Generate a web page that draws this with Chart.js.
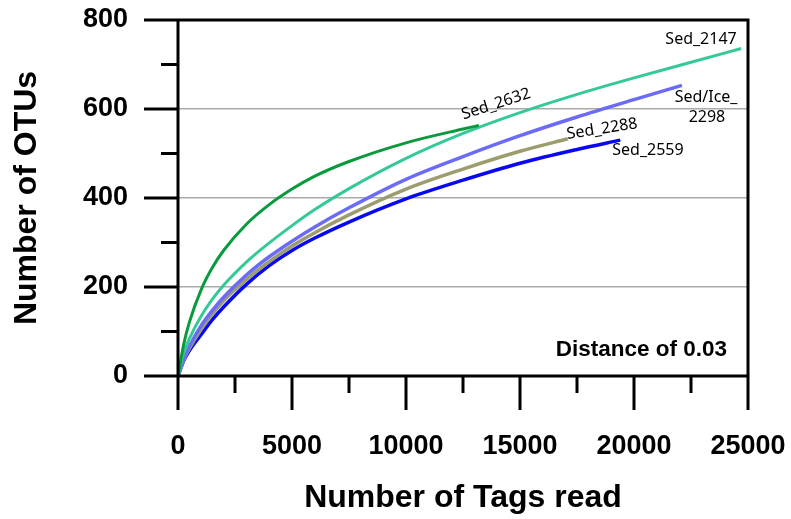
<!DOCTYPE html>
<html>
<head>
<meta charset="utf-8">
<script src="https://cdn.jsdelivr.net/npm/chart.js@4.4.1/dist/chart.umd.min.js"></script>
<style>
  html, body { margin: 0; padding: 0; background: #fff; }
  #wrap { width: 791px; height: 519px; }
</style>
</head>
<body>
<div id="wrap"><canvas id="otuChart" width="791" height="519"></canvas></div>
<script>
// rarefaction curves, values (tags read -> OTUs)
const sed2632X = [0, 250, 500, 1000, 1500, 2000, 3000, 4000, 5000, 6000, 7500, 10000, 12500, 13200];
const sed2632Y = [0, 71, 121, 192, 243, 282, 341, 385, 420, 449, 482, 524, 555, 563];

const sed2147X = [0, 250, 500, 1000, 1500, 2000, 3000, 4000, 5000, 6000, 7500, 10000, 12500, 15000, 17500, 20000, 22500, 24700];
const sed2147Y = [0, 52, 84, 133, 172, 204, 256, 299, 338, 374, 421, 489, 545, 592, 633, 670, 705, 736];

const sed2298X = [0, 250, 500, 1000, 1500, 2000, 3000, 4000, 5000, 6000, 7500, 10000, 12500, 15000, 17500, 20000, 22100];
const sed2298Y = [0, 38, 67, 112, 147, 177, 227, 268, 303, 335, 378, 442, 493, 540, 582, 621, 653];

const sed2288X = [0, 250, 500, 1000, 1500, 2000, 3000, 4000, 5000, 6000, 7500, 10000, 12500, 15000, 17100];
const sed2288Y = [0, 36, 62, 104, 139, 169, 217, 257, 292, 322, 362, 420, 465, 505, 533];

const sed2559X = [0, 250, 500, 1000, 1500, 2000, 3000, 4000, 5000, 6000, 7500, 10000, 12500, 15000, 17500, 19400];
const sed2559Y = [0, 34, 57, 92, 126, 155, 206, 248, 282, 310, 346, 398, 440, 478, 509, 530];

const xMajorTicks = [0, 5000, 10000, 15000, 20000, 25000];
const xMinorTicks = [2500, 7500, 12500, 17500, 22500];
const yMajorTicks = [0, 200, 400, 600, 800];
const yMinorTicks = [100, 300, 500, 700];
const gridValues = [200, 400, 600];

// curve labels, anchored in data units
const curveLabels = [
  { text: 'Sed_2147', x: 22940, y: 757, rot: 0 },
  { text: 'Sed_2632', x: 13950, y: 611, rot: -18 },
  { text: 'Sed/Ice_', x: 23160, y: 627, rot: 0 },
  { text: '2298', x: 23200, y: 580, rot: 0 },
  { text: 'Sed_2288', x: 18600, y: 555, rot: -9 },
  { text: 'Sed_2559', x: 20610, y: 506, rot: 0 }
];

function pts(xs, ys) {
  return xs.map((x, i) => ({ x: x, y: ys[i] }));
}

function series(label, xs, ys, color, w) {
  return {
    label: label,
    data: pts(xs, ys),
    borderColor: color,
    borderWidth: w,
    pointRadius: 0,
    fill: false,
    cubicInterpolationMode: 'monotone'
  };
}

function noPad(s) {
  s.paddingLeft = 0; s.paddingRight = 0; s.paddingTop = 0; s.paddingBottom = 0;
}

// frame, tick marks and text labels drawn by hand
const framePlugin = {
  id: 'frame',
  afterDraw(chart) {
    const ctx = chart.ctx;
    const xs = chart.scales.x, ys = chart.scales.y;
    const left = xs.getPixelForValue(0), right = xs.getPixelForValue(25000);
    const top = ys.getPixelForValue(800), bottom = ys.getPixelForValue(0);
    ctx.save();
    ctx.strokeStyle = '#000';
    ctx.lineWidth = 3;
    ctx.lineCap = 'butt';
    ctx.beginPath();
    // box
    ctx.moveTo(left - 34, top); ctx.lineTo(right + 1.5, top);
    ctx.moveTo(right, top); ctx.lineTo(right, bottom + 34);
    ctx.moveTo(left, top); ctx.lineTo(left, bottom + 34);
    ctx.moveTo(left - 34, bottom); ctx.lineTo(right, bottom);
    xMajorTicks.forEach(v => { const p = xs.getPixelForValue(v); ctx.moveTo(p, bottom); ctx.lineTo(p, bottom + 34); });
    xMinorTicks.forEach(v => { const p = xs.getPixelForValue(v); ctx.moveTo(p, bottom); ctx.lineTo(p, bottom + 17); });
    yMajorTicks.forEach(v => { const p = ys.getPixelForValue(v); ctx.moveTo(left - 34, p); ctx.lineTo(left, p); });
    yMinorTicks.forEach(v => { const p = ys.getPixelForValue(v); ctx.moveTo(left - 17, p); ctx.lineTo(left, p); });
    ctx.stroke();

    ctx.fillStyle = '#000';
    ctx.font = '16px "Noto Sans", sans-serif';
    ctx.textAlign = 'center';
    ctx.textBaseline = 'middle';
    curveLabels.forEach(l => {
      ctx.save();
      ctx.translate(xs.getPixelForValue(l.x), ys.getPixelForValue(l.y));
      ctx.rotate(l.rot * Math.PI / 180);
      ctx.fillText(l.text, 0, 0);
      ctx.restore();
    });

    ctx.font = 'bold 22.5px "Liberation Sans", Arial, sans-serif';
    ctx.textAlign = 'right';
    ctx.fillText('Distance of 0.03', xs.getPixelForValue(24080), ys.getPixelForValue(58));
    ctx.restore();
  }
};

const ctx = document.getElementById('otuChart').getContext('2d');
const otuChart = new Chart(ctx, {
  type: 'line',
  data: {
    datasets: [
      series('Sed_2632', sed2632X, sed2632Y, '#0A9A3E', 3),
      series('Sed_2147', sed2147X, sed2147Y, '#36C998', 3),
      series('Sed/Ice_2298', sed2298X, sed2298Y, '#6B6BF8', 3.5),
      series('Sed_2288', sed2288X, sed2288Y, '#9C9C6E', 3.5),
      series('Sed_2559', sed2559X, sed2559Y, '#0808F2', 3.5)
    ]
  },
  options: {
    responsive: false,
    animation: false,
    layout: { padding: { left: 0, right: 43, top: 20, bottom: 0 } },
    plugins: { legend: { display: false }, tooltip: { enabled: false } },
    scales: {
      x: {
        type: 'linear',
        min: 0,
        max: 25000,
        afterFit(s) { s.height = 143; noPad(s); },
        afterBuildTicks(s) { s.ticks = xMajorTicks.map(v => ({ value: v })); },
        border: { display: false },
        grid: { display: false, drawTicks: false },
        ticks: {
          padding: 54,
          color: '#000',
          maxRotation: 0,
          callback: v => String(v),
          font: { family: '"Liberation Sans", Arial, sans-serif', size: 27, weight: 'bold' }
        },
        title: {
          display: true,
          text: 'Number of Tags read',
          color: '#000',
          padding: { top: 0, bottom: 2 },
          font: { family: '"Liberation Sans", Arial, sans-serif', size: 32, weight: 'bold' }
        }
      },
      y: {
        min: 0,
        max: 800,
        afterFit(s) { s.width = 178; noPad(s); },
        afterBuildTicks(s) { s.ticks = yMajorTicks.map(v => ({ value: v })); },
        border: { display: false },
        grid: {
          drawTicks: false,
          lineWidth: 1.5,
          color: c => gridValues.includes(c.tick.value) ? '#AAAAAA' : 'rgba(0,0,0,0)'
        },
        ticks: {
          padding: 50,
          color: '#000',
          callback: v => String(v),
          font: { family: '"Liberation Sans", Arial, sans-serif', size: 27, weight: 'bold' }
        },
        title: {
          display: true,
          text: 'Number of OTUs',
          color: '#000',
          padding: { top: 8, bottom: 0 },
          font: { family: '"Liberation Sans", Arial, sans-serif', size: 32, weight: 'bold' }
        }
      }
    }
  },
  plugins: [framePlugin]
});
</script>
</body>
</html>
